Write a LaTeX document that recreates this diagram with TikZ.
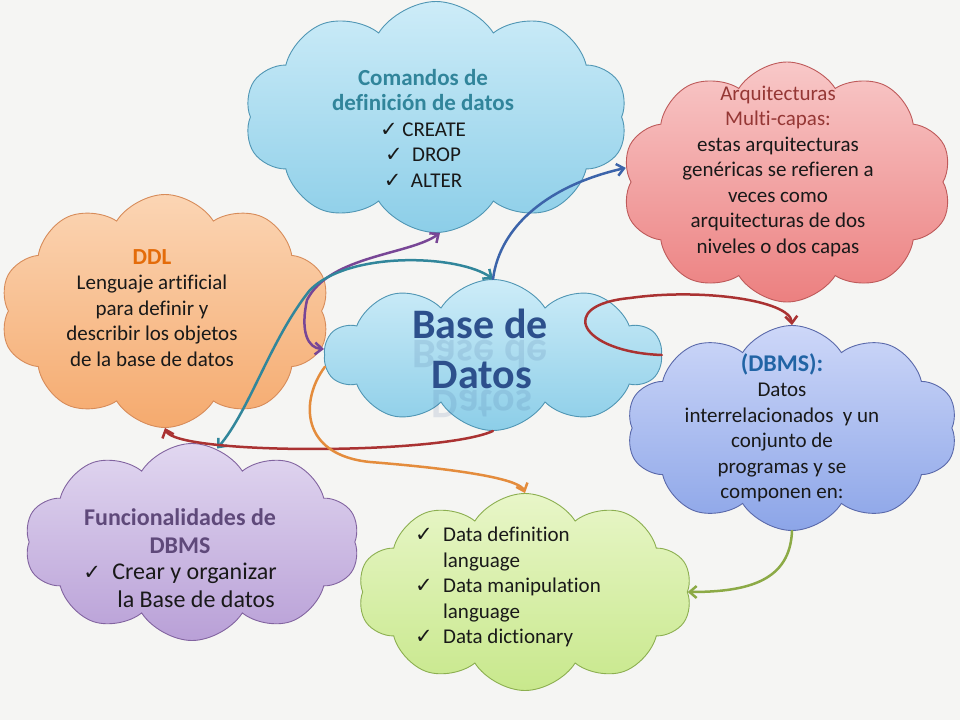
\documentclass[tikz,border=0pt]{standalone}
\usepackage{fontspec}
\setmainfont{Carlito}[Ligatures=NoCommon]
\newfontfamily\symfont{DejaVu Sans}
\usetikzlibrary{shapes.symbols,arrows.meta,positioning}
\definecolor{bgc}{RGB}{245,245,243}
\definecolor{cmdc}{RGB}{49,133,155}
\definecolor{ddlc}{RGB}{228,108,10}
\definecolor{arqc}{RGB}{149,55,53}
\definecolor{dbmsc}{RGB}{33,100,165}
\definecolor{funcc}{RGB}{95,73,122}
\definecolor{bdc}{RGB}{45,80,140}
\definecolor{lnpurple}{RGB}{120,70,150}
\definecolor{lnteal}{RGB}{49,134,155}
\definecolor{lnblue}{RGB}{60,100,170}
\definecolor{lnred}{RGB}{170,50,50}
\definecolor{lnorange}{RGB}{228,140,60}
\definecolor{lngreen}{RGB}{140,170,70}
\newcommand{\chk}{{\symfont\fontsize{21}{21}\selectfont ✓}}
\newcommand{\ttl}{\bfseries\fontsize{23}{28}\selectfont}
\begin{document}
\begin{tikzpicture}[x=1pt,y=-1pt,
    cloudbox/.style={cloud,cloud puffs=10,cloud puff arc=115,draw,line width=0.9pt,inner sep=0pt},
    blueish/.style={top color={rgb,255:red,205;green,236;blue,248},bottom color={rgb,255:red,140;green,206;blue,232},draw={rgb,255:red,80;green,150;blue,180}},
    txt/.style={align=center,font=\fontsize{21}{25.5}\selectfont,text={rgb,255:red,25;green,25;blue,25}},
    barb/.tip={Straight Barb[length=7pt,width=12pt]},
    link/.style={line width=2.5pt,line cap=round,-barb},
    twoway/.style={line width=2.5pt,line cap=round,barb-barb}]
\fill[bgc] (0,0) rectangle (960,720);
\useasboundingbox (0,0) rectangle (960,720);
\node[cloudbox,blueish,minimum width=383pt,minimum height=231pt,aspect=1.66] (cmd) at (436,117) {};
\node[cloudbox,top color={rgb,255:red,251;green,213;blue,180},bottom color={rgb,255:red,245;green,170;blue,110},draw={rgb,255:red,215;green,140;blue,90},minimum width=330pt,minimum height=233pt,aspect=1.42] (ddl) at (165,311) {};
\node[cloudbox,top color={rgb,255:red,248;green,200;blue,200},bottom color={rgb,255:red,236;green,128;blue,128},draw={rgb,255:red,190;green,90;blue,90},minimum width=330pt,minimum height=240pt,aspect=1.38] (arq) at (787,182) {};
\node[cloudbox,blueish,minimum width=337pt,minimum height=151pt,aspect=2.23] (bd) at (493,355) {};
\node[cloudbox,top color={rgb,255:red,205;green,215;blue,248},bottom color={rgb,255:red,140;green,165;blue,232},draw={rgb,255:red,90;green,105;blue,170},minimum width=331pt,minimum height=205pt,aspect=1.61] (dbms) at (792,428) {};
\node[cloudbox,top color={rgb,255:red,225;green,215;blue,240},bottom color={rgb,255:red,185;green,160;blue,215},draw={rgb,255:red,130;green,100;blue,160},minimum width=335pt,minimum height=197pt,aspect=1.7] (func) at (192,542) {};
\node[cloudbox,top color={rgb,255:red,232;green,246;blue,200},bottom color={rgb,255:red,200;green,232;blue,140},draw={rgb,255:red,140;green,175;blue,80},minimum width=334pt,minimum height=197pt,aspect=1.7] (dd) at (525,592) {};
\draw[twoway,lnpurple] (cmd.-88) .. controls (410,255) and (330,255) .. (307,300) .. controls (300,332) and (308,348) .. (bd.178);
\draw[twoway,lnteal] (bd.north) .. controls (460,255) and (350,250) .. (310,290) .. controls (270,340) and (250,410) .. (func.75);
\draw[link,lnblue] (bd.north) .. controls (500,225) and (550,185) .. (arq.175);
\draw[link,lnred] (bd.east) .. controls (580,352) and (555,305) .. (630,298) .. controls (700,288) and (790,300) .. (dbms.north);
\draw[link,lnred] (bd.south) .. controls (440,455) and (175,455) .. (ddl.south);
\draw[link,lnorange] (bd.184) .. controls (300,400) and (300,455) .. (370,462) .. controls (470,470) and (520,480) .. (dd.north);
\draw[link,lngreen] (dbms.south) .. controls (790,580) and (750,592) .. (dd.east);
\node[txt] (cmdtxt) at (423,128) {{\ttl\color{cmdc}Comandos de}\\{\ttl\color{cmdc}definición de datos}\\\chk\ CREATE\\\chk\ \ DROP\\\chk\ \ ALTER};
\node[txt] (ddltxt) at (152,308) {{\ttl\color{ddlc}DDL}\\Lenguaje artificial\\para definir y\\describir los objetos\\de la base de datos};
\node[txt] (arqtxt) at (778,171) {{\color{arqc}Arquitecturas}\\{\color{arqc}Multi-capas:}\\estas arquitecturas\\genéricas se refieren a\\veces como\\arquitecturas de dos\\niveles o dos capas};
\node[txt] (dbmstxt) at (782,428) {{\ttl\fontsize{24}{28}\selectfont\color{dbmsc}(DBMS):}\\Datos\\interrelacionados\ \ y un\\conjunto de\\programas y se\\componen en:};
\node[txt,font=\bfseries\fontsize{24}{28}\selectfont,text=funcc] (functit) at (180,531) {Funcionalidades de\\DBMS};
\node[txt,align=left,font=\fontsize{24}{28}\selectfont,below=2pt of functit] (funclst) {\makebox[29pt][l]{\chk}Crear y organizar\\\hspace*{34pt}la Base de datos};
\node[txt,align=left] (ddtxt) at (508,587) {\makebox[28pt][l]{\chk}Data definition\\\hspace*{28pt}language\\\makebox[28pt][l]{\chk}Data manipulation\\\hspace*{28pt}language\\\makebox[28pt][l]{\chk}Data dictionary};
\node[anchor=base,yscale=-1,transform shape,text=bdc,text opacity=0.12,font=\bfseries\fontsize{42}{50}\selectfont] (bdrefa) at (480,340) {Base de};
\node[anchor=base,yscale=-1,transform shape,text=bdc,text opacity=0.12,font=\bfseries\fontsize{42}{50}\selectfont] (bdrefb) at (482,390) {Datos};
\node[anchor=base,text=bdc,font=\bfseries\fontsize{42}{50}\selectfont] (bdtxta) at (480,338) {Base de};
\node[anchor=base,text=bdc,font=\bfseries\fontsize{42}{50}\selectfont] (bdtxtb) at (482,388) {Datos};
\end{tikzpicture}
\end{document}
